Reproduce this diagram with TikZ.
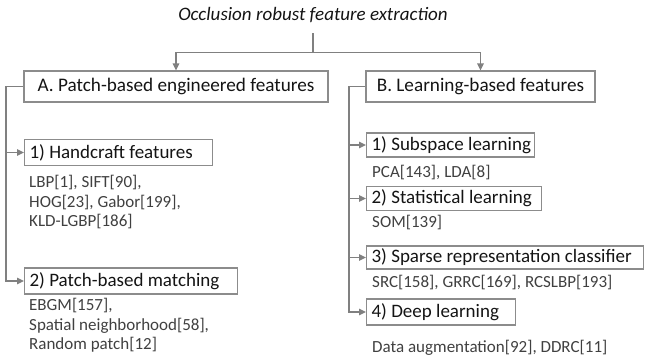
\documentclass[tikz,border=0pt]{standalone}
\usepackage{fontspec}
\setmainfont{Carlito}
\usetikzlibrary{arrows.meta}
\definecolor{linegray}{RGB}{128,128,128}
\definecolor{boxgray}{RGB}{140,140,140}
\definecolor{txtdark}{RGB}{20,20,20}
\definecolor{subtxt}{RGB}{64,64,64}
\tikzset{
  conn/.style={draw=linegray, line width=1.3pt},
  arr/.style={conn, -{Triangle[length=7pt,width=6.5pt]}},
  mainbox/.style={draw=boxgray, line width=1.2pt, inner sep=0pt, align=center, text=txtdark, font=\fontsize{19.2}{22}\selectfont},
  subbox/.style={draw=boxgray, line width=1.2pt, inner xsep=5pt, inner ysep=0pt, anchor=west, text=txtdark, font=\fontsize{19}{22}\selectfont},
  reftext/.style={inner sep=0pt, align=left, text=subtxt, font=\fontsize{17}{19.5}\selectfont},
}
\newcommand{\boxtxt}[2]{\makebox[#1][l]{#2}}
\begin{document}
\begin{tikzpicture}[x=1pt,y=1pt]
\useasboundingbox (0,0) rectangle (646,360);
% title
\node[text=txtdark, font=\fontsize{19}{22}\selectfont\itshape] (T) at (313,345) {Occlusion robust feature extraction};
\coordinate (top) at (313,327);
\coordinate (j) at (313,307.7);
% main boxes
\node[mainbox, minimum width=304pt, minimum height=31pt] (A) at (176,273.5) {A. Patch-based engineered features};
\node[mainbox, minimum width=229pt, minimum height=31pt] (B) at (480.5,273.5) {B. Learning-based features};
\draw[arr] (top) -- (j) -| (A.north);
\draw[arr] (j) -| (B.north);
% A branch
\node[subbox, minimum height=26pt] (h1) at (24,207.5) {\boxtxt{178pt}{1) Handcraft features}};
\node[subbox, minimum height=26pt] (h2) at (24,79) {\boxtxt{203pt}{2) Patch-based matching}};
\node[reftext, anchor=north west] (r1) at (29,186.2) {\strut LBP[1], SIFT[90],\\HOG[23], Gabor[199],\\KLD-LGBP[186]};
\node[reftext, anchor=north west] (r2) at (29,63.2) {\strut EBGM[157],\\Spatial neighborhood[58],\\Random patch[12]};
\coordinate (ca) at (6,273.5);
\draw[arr] (A.west) -- (ca) |- (h2.west);
\draw[arr] (ca |- h1.west) -- (h1.west);
% B branch
\node[subbox, minimum height=24pt] (l1) at (366,215) {\boxtxt{158pt}{1) Subspace learning}};
\node[subbox, minimum height=24pt] (l2) at (366,161.5) {\boxtxt{165pt}{2) Statistical learning}};
\node[subbox, minimum height=23pt] (l3) at (366,102.5) {\boxtxt{267pt}{3) Sparse representation classifier}};
\node[subbox, minimum height=26pt] (l4) at (366,48) {\boxtxt{139pt}{4) Deep learning}};
\node[reftext, anchor=base west] (s1) at (372,182.5) {PCA[143], LDA[8]};
\node[reftext, anchor=base west] (s2) at (372,132.5) {SOM[139]};
\node[reftext, anchor=base west] (s3) at (372,72.5) {SRC[158], GRRC[169], RCSLBP[193]};
\node[reftext, anchor=base west] (s4) at (372,7.5) {Data augmentation[92], DDRC[11]};
\coordinate (cb) at (349,273.5);
\draw[arr] (B.west) -- (cb) |- (l4.west);
\draw[arr] (cb |- l1.west) -- (l1.west);
\draw[arr] (cb |- l2.west) -- (l2.west);
\draw[arr] (cb |- l3.west) -- (l3.west);
\end{tikzpicture}
\end{document}
